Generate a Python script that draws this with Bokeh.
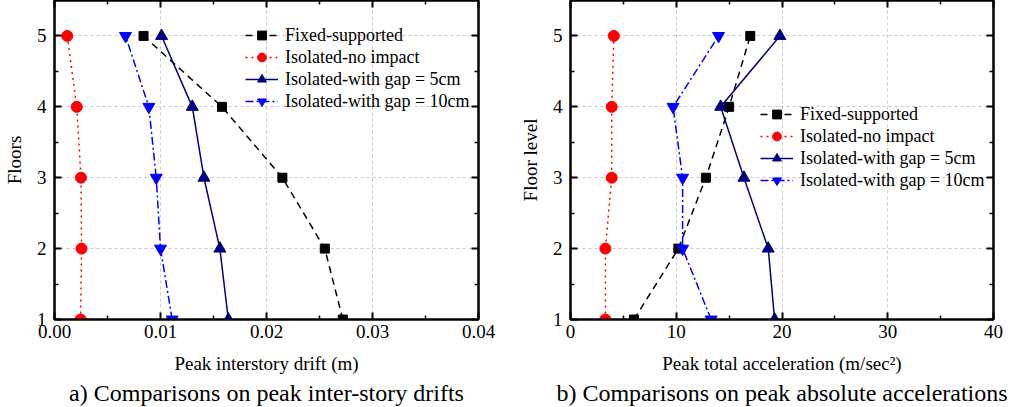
from bokeh.plotting import figure
from bokeh.models import (FixedTicker, LinearAxis, Range1d, Title,
                          NumeralTickFormatter, CustomJSTickFormatter)
from bokeh.layouts import row
from bokeh.embed import file_html
from bokeh.resources import INLINE

floors = [1, 2, 3, 4, 5]
series_names = ["Fixed-supported", "Isolated-no impact",
                "Isolated-with gap = 5cm", "Isolated-with gap = 10cm"]

drift_fixed = [0.0272, 0.0255, 0.0215, 0.0158, 0.0084]
drift_noimpact = [0.00246, 0.00255, 0.0025, 0.0021, 0.0012]
drift_gap5 = [0.0164, 0.0156, 0.0141, 0.0130, 0.0101]
drift_gap10 = [0.0111, 0.0100, 0.0096, 0.0089, 0.0067]

acc_fixed = [6.0, 10.2, 12.8, 15.0, 17.0]
acc_noimpact = [3.3, 3.3, 3.9, 3.9, 4.1]
acc_gap5 = [19.3, 18.7, 16.4, 14.2, 19.8]
acc_gap10 = [13.3, 10.6, 10.6, 9.7, 14.0]

drift_ticks = [0.0, 0.01, 0.02, 0.03, 0.04]
drift_minor = [0.005, 0.015, 0.025, 0.035]
acc_ticks = [0, 10, 20, 30, 40]
acc_minor = [5, 15, 25, 35]
floor_ticks = [1, 2, 3, 4, 5]
floor_minor = [1.5, 2.5, 3.5, 4.5]

FONT = "Liberation Serif, Times New Roman, serif"
styles = [
    dict(color="#000000", dash="7 5", marker="square", size=9),
    dict(color="#ff0000", dash="2 4", marker="circle", size=11),
    dict(color="#000080", dash="solid", marker="triangle", size=12),
    dict(color="#0000ff", dash="8 3 2 3", marker="inverted_triangle", size=12),
]


def style_axis(ax, labels=True):
    ax.axis_line_width = 2
    ax.axis_line_color = "black"
    ax.major_tick_in = 7
    ax.major_tick_out = 0
    ax.minor_tick_in = 4
    ax.minor_tick_out = 0
    ax.major_tick_line_width = 2
    ax.minor_tick_line_width = 1.5
    ax.major_tick_line_color = "black"
    ax.minor_tick_line_color = "black"
    ax.major_label_text_font = FONT
    ax.major_label_text_color = "black"
    ax.axis_label_text_font = FONT
    ax.axis_label_text_font_style = "normal"
    ax.axis_label_text_color = "black"
    ax.major_label_text_font_size = "19px"
    ax.axis_label_text_font_size = "19px"
    if not labels:
        ax.formatter = CustomJSTickFormatter(code="return '';")
        ax.major_label_standoff = 0


def make_fig(xs, xr, xticks, xminor, xlabel, ylabel, caption, width,
             mbl, mbr, legend_loc, fmt):
    p = figure(width=width, height=407, x_range=Range1d(*xr),
               y_range=Range1d(1, 5.5), output_backend="svg",
               toolbar_location=None, min_border_left=mbl,
               min_border_right=mbr, min_border_top=0, min_border_bottom=0,
               background_fill_color="white", border_fill_color="white")
    xt = FixedTicker(ticks=xticks, minor_ticks=xminor)
    yt = FixedTicker(ticks=floor_ticks, minor_ticks=floor_minor)
    p.xaxis.ticker = xt
    p.yaxis.ticker = yt
    p.xaxis.formatter = NumeralTickFormatter(format=fmt)
    p.xaxis.axis_label = xlabel
    p.yaxis.axis_label = ylabel
    p.xaxis.major_label_standoff = 5
    p.xaxis.axis_label_standoff = 12
    p.yaxis.major_label_standoff = 8
    p.yaxis.axis_label_standoff = 9
    style_axis(p.xaxis[0])
    style_axis(p.yaxis[0])
    top = LinearAxis(ticker=xt)
    right = LinearAxis(ticker=yt)
    style_axis(top, False)
    style_axis(right, False)
    p.add_layout(top, "above")
    p.add_layout(right, "right")
    p.xgrid.ticker = xt
    p.ygrid.ticker = yt
    p.grid.grid_line_color = "#c8c8c8"
    p.grid.grid_line_dash = "3 3"
    p.grid.grid_line_width = 1
    p.outline_line_color = "black"
    p.outline_line_width = 2

    for vals, name, st in zip(xs, series_names, styles):
        p.line(vals, floors, line_color=st["color"], line_width=1.5,
               line_dash=st["dash"], legend_label=name)
        p.scatter(vals, floors, marker=st["marker"], size=st["size"],
                  fill_color=st["color"], line_color=st["color"],
                  legend_label=name)

    lg = p.legend[0]
    lg.location = legend_loc
    lg.background_fill_alpha = 0
    lg.border_line_alpha = 0
    lg.label_text_font = FONT
    lg.label_text_font_size = "18px"
    lg.label_text_color = "black"
    lg.glyph_width = 33
    lg.glyph_height = 22
    lg.label_height = 22
    lg.spacing = 0
    lg.padding = 0
    lg.margin = 0
    lg.label_standoff = 7

    p.add_layout(Title(text=caption, align="center", text_font=FONT,
                       text_font_size="24px", text_font_style="normal",
                       text_color="black", standoff=3, offset=0), "below")
    return p


p1 = make_fig([drift_fixed, drift_noimpact, drift_gap5, drift_gap10],
              (0, 0.04), drift_ticks, drift_minor,
              "Peak interstory drift (m)", "Floors",
              "a) Comparisons on peak inter-story drifts",
              500, 54, 22, (191, 207), "0.00")
p2 = make_fig([acc_fixed, acc_noimpact, acc_gap5, acc_gap10],
              (0, 40), acc_ticks, acc_minor,
              "Peak total acceleration (m/sec\u00b2)", "Floor level",
              "b) Comparisons on peak absolute accelerations",
              512, 70, 19, (190, 128), "0")

layout = row(p1, p2, spacing=0)
open("out.html", "w").write(file_html(layout, INLINE))
